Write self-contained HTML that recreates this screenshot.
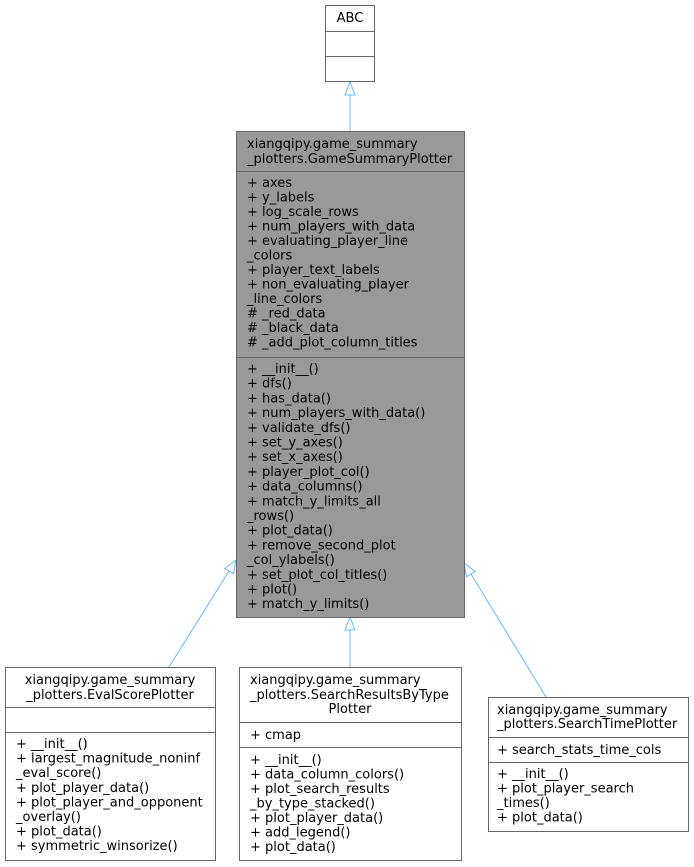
<!DOCTYPE html>
<html><head><meta charset="utf-8"><style>
html,body{margin:0;padding:0;background:#fff;}
svg{display:block;}
text{font-family:"DejaVu Sans","Liberation Sans",sans-serif;font-size:13px;fill:#000;}
</style></head><body>
<svg width="694" height="867" viewBox="0 0 694 867" xmlns="http://www.w3.org/2000/svg">
<g stroke="#63b8ff" stroke-width="1" fill="#fff">
<line x1="350" y1="131" x2="350" y2="95"/>
<polygon points="350,82 345,95 355,95"/>
<line x1="169" y1="667" x2="229" y2="571"/>
<polygon points="236,560 233.4,573.7 224.9,568.4"/>
<line x1="350" y1="667" x2="350" y2="630"/>
<polygon points="350,617 345,630 355,630"/>
<line x1="546" y1="697" x2="471" y2="574"/>
<polygon points="464,563 475.1,571.5 466.5,576.7"/>
</g>
<!-- ABC -->
<g stroke="#666" stroke-width="1" fill="#fff">
<rect x="325.5" y="5.5" width="49" height="76"/>
<line x1="325.5" y1="31.5" x2="374.5" y2="31.5"/>
<line x1="325.5" y1="56.5" x2="374.5" y2="56.5"/>
</g>
<text x="350" y="22" text-anchor="middle">ABC</text>
<!-- main -->
<g stroke="#666" stroke-width="1">
<rect x="236.5" y="131.5" width="228" height="486" fill="#999"/>
<line x1="236.5" y1="171.5" x2="464.5" y2="171.5"/>
<line x1="236.5" y1="357.5" x2="464.5" y2="357.5"/>
</g>
<g>
<text x="247" y="148">xiangqipy.game_summary</text>
<text x="247" y="163">_plotters.GameSummaryPlotter</text>
<text x="247" y="187">+ axes</text>
<text x="247" y="201.5">+ y_labels</text>
<text x="247" y="216">+ log_scale_rows</text>
<text x="247" y="230.5">+ num_players_with_data</text>
<text x="247" y="245">+ evaluating_player_line</text>
<text x="247" y="259.5">_colors</text>
<text x="247" y="274">+ player_text_labels</text>
<text x="247" y="288.5">+ non_evaluating_player</text>
<text x="247" y="303">_line_colors</text>
<text x="247" y="317.5"># _red_data</text>
<text x="247" y="332"># _black_data</text>
<text x="247" y="346.5"># _add_plot_column_titles</text>
<text x="247" y="373">+ __init__()</text>
<text x="247" y="387.7">+ dfs()</text>
<text x="247" y="402.4">+ has_data()</text>
<text x="247" y="417.1">+ num_players_with_data()</text>
<text x="247" y="431.8">+ validate_dfs()</text>
<text x="247" y="446.5">+ set_y_axes()</text>
<text x="247" y="461.2">+ set_x_axes()</text>
<text x="247" y="475.9">+ player_plot_col()</text>
<text x="247" y="490.6">+ data_columns()</text>
<text x="247" y="505.3">+ match_y_limits_all</text>
<text x="247" y="520">_rows()</text>
<text x="247" y="534.7">+ plot_data()</text>
<text x="247" y="549.4">+ remove_second_plot</text>
<text x="247" y="564.1">_col_ylabels()</text>
<text x="247" y="578.8">+ set_plot_col_titles()</text>
<text x="247" y="593.5">+ plot()</text>
<text x="247" y="608.2">+ match_y_limits()</text>
</g>
<!-- Eval -->
<g stroke="#666" stroke-width="1" fill="#fff">
<rect x="5.5" y="667.5" width="210" height="193"/>
<line x1="5.5" y1="707.5" x2="215.5" y2="707.5"/>
<line x1="5.5" y1="732.5" x2="215.5" y2="732.5"/>
</g>
<text x="110" y="684" text-anchor="middle">xiangqipy.game_summary</text>
<text x="110" y="699" text-anchor="middle">_plotters.EvalScorePlotter</text>
<text x="16" y="748">+ __init__()</text>
<text x="16" y="762.6">+ largest_magnitude_noninf</text>
<text x="16" y="777.2">_eval_score()</text>
<text x="16" y="791.8">+ plot_player_data()</text>
<text x="16" y="806.4">+ plot_player_and_opponent</text>
<text x="16" y="821">_overlay()</text>
<text x="16" y="835.6">+ plot_data()</text>
<text x="16" y="850.2">+ symmetric_winsorize()</text>
<!-- SearchResults -->
<g stroke="#666" stroke-width="1" fill="#fff">
<rect x="239.5" y="667.5" width="222" height="193"/>
<line x1="239.5" y1="722.5" x2="461.5" y2="722.5"/>
<line x1="239.5" y1="747.5" x2="461.5" y2="747.5"/>
</g>
<text x="250" y="684">xiangqipy.game_summary</text>
<text x="250" y="699">_plotters.SearchResultsByType</text>
<text x="350" y="713" text-anchor="middle">Plotter</text>
<text x="250" y="739">+ cmap</text>
<text x="250" y="764">+ __init__()</text>
<text x="250" y="778.5">+ data_column_colors()</text>
<text x="250" y="793">+ plot_search_results</text>
<text x="250" y="807.5">_by_type_stacked()</text>
<text x="250" y="822">+ plot_player_data()</text>
<text x="250" y="836.5">+ add_legend()</text>
<text x="250" y="851">+ plot_data()</text>
<!-- SearchTime -->
<g stroke="#666" stroke-width="1" fill="#fff">
<rect x="488.5" y="697.5" width="200" height="134"/>
<line x1="488.5" y1="737.5" x2="688.5" y2="737.5"/>
<line x1="488.5" y1="762.5" x2="688.5" y2="762.5"/>
</g>
<text x="497" y="714">xiangqipy.game_summary</text>
<text x="497" y="728">_plotters.SearchTimePlotter</text>
<text x="497" y="754">+ search_stats_time_cols</text>
<text x="497" y="778">+ __init__()</text>
<text x="497" y="792.5">+ plot_player_search</text>
<text x="497" y="807">_times()</text>
<text x="497" y="821.5">+ plot_data()</text>
</svg>
</body></html>
